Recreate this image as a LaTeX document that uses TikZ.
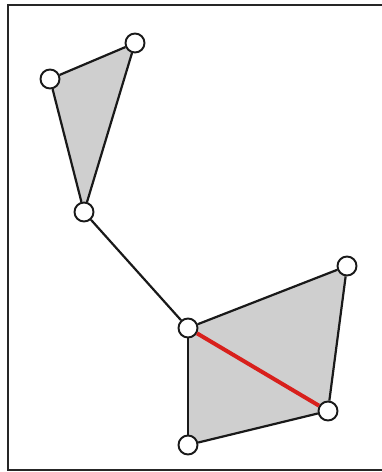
\documentclass[tikz,border=0pt]{standalone}
\usetikzlibrary{backgrounds}
\definecolor{facegray}{HTML}{CFCFCF}
\definecolor{edgered}{HTML}{D8201C}
\tikzstyle{vertex} = [circle, draw=black!90, line width=1.9pt, fill=white, minimum size=19pt, inner sep=0pt]
\tikzstyle{edge} = [draw=black!90, line width=2.2pt]
\tikzstyle{face} = [fill=facegray]

\begin{document}
\begin{tikzpicture}[x=1pt, y=-1pt]
    \useasboundingbox (0,0) rectangle (382,472);
    % Frame
    \draw[black!85, line width=2.2pt] (390,5) -- (8,5) -- (8,470) -- (390,470);

    % Vertices
    \node (a) [vertex] at (50,79) {};
    \node (b) [vertex] at (135,43) {};
    \node (c) [vertex] at (84,212) {};
    \node (d) [vertex] at (188,328) {};
    \node (e) [vertex] at (347,266) {};
    \node (f) [vertex] at (328,411) {};
    \node (g) [vertex] at (188,445) {};

    % Faces
    \begin{scope}[on background layer]
        \fill[face] (a.center) -- (b.center) -- (c.center) -- cycle;
        \fill[face] (d.center) -- (e.center) -- (f.center) -- (g.center) -- cycle;
    \end{scope}

    % Edges
    \draw [edge] (a) -- (b);
    \draw [edge] (b) -- (c);
    \draw [edge] (c) -- (a);
    \draw [edge] (c) -- (d);
    \draw [edge] (d) -- (e);
    \draw [edge] (e) -- (f);
    \draw [edge] (f) -- (g);
    \draw [edge] (g) -- (d);
    \draw [edgered, line width=4pt] (d) -- (f);
\end{tikzpicture}
\end{document}
